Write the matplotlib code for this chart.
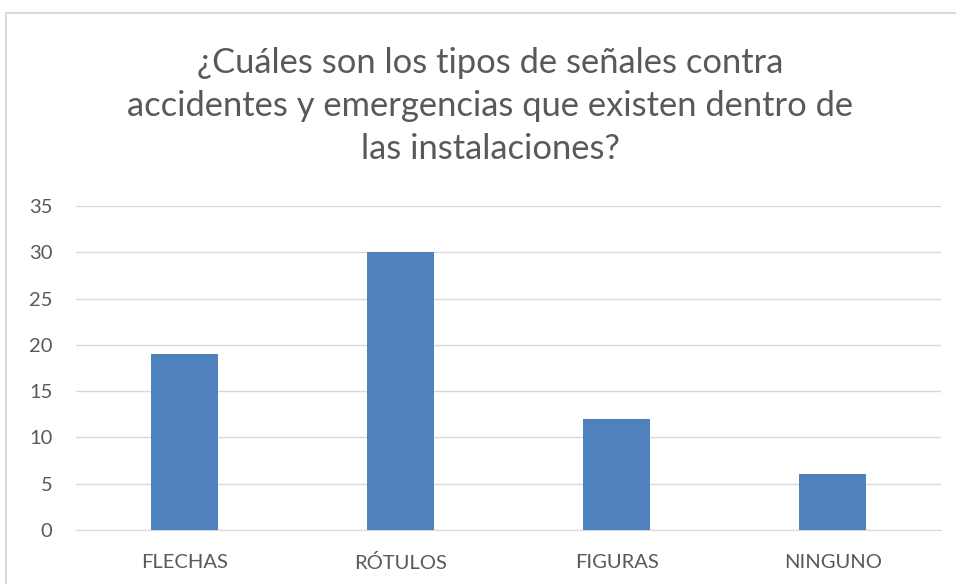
import matplotlib
matplotlib.use("Agg")
import matplotlib.pyplot as plt
from matplotlib.patches import Rectangle

# ── Survey answers ───────────────────────────────────────────────────────────
categories = ["FLECHAS", "RÓTULOS", "FIGURAS", "NINGUNO"]
counts = [19, 30, 12, 6]
y_ticks = [0, 5, 10, 15, 20, 25, 30, 35]
title = ("¿Cuáles son los tipos de señales contra\n"
         "accidentes y emergencias que existen dentro de\n"
         "las instalaciones?")

C = dict(bar="#4F81BD", text="#595959", grid="#D9D9D9", frame="#D9D9D9")

plt.rcParams["font.family"] = ["Lato", "DejaVu Sans"]

fig = plt.figure(figsize=(9.56, 5.84), dpi=100, facecolor="white")

# chart-area frame (runs off the right and bottom edges)
fig.patches.append(Rectangle((6 / 956, -0.05), 1.2, 1 - 13 / 584 + 0.05,
                             transform=fig.transFigure, fill=False,
                             edgecolor=C["frame"], lw=1.5))

ax = fig.add_axes([76 / 956, 1 - 530 / 584, (941 - 76) / 956, (530 - 206) / 584])
x = range(len(categories))
ax.bar(x, counts, width=0.31, color=C["bar"], zorder=3)

ax.set_xlim(-0.5, len(categories) - 0.5)
ax.set_ylim(0, 35)
ax.set_yticks(y_ticks)
ax.set_xticks(list(x))
ax.set_xticklabels(categories)
ax.yaxis.grid(True, color=C["grid"], lw=1, zorder=0)
for name, sp in ax.spines.items():
    if name == "bottom":
        sp.set_color(C["grid"])
    else:
        sp.set_visible(False)
ax.tick_params(axis="both", length=0, colors=C["text"], labelsize=14.5)
ax.tick_params(axis="y", pad=17)
ax.tick_params(axis="x", pad=17)

fig.text(490 / 956, 1 - 106 / 584, title, ha="center", va="center",
         fontsize=24.8, color=C["text"], linespacing=1.42)

fig.savefig("out.png", dpi=100, facecolor="white")
plt.close(fig)
